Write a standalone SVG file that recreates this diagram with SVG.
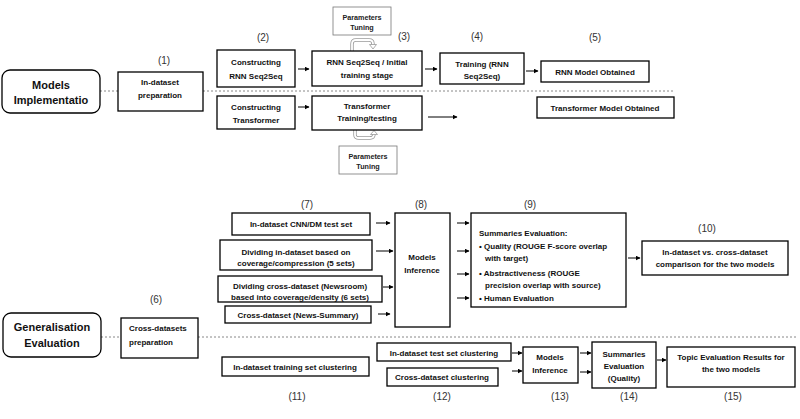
<svg xmlns="http://www.w3.org/2000/svg" width="800" height="419" viewBox="0 0 800 419">
<style>
.b{fill:#fff;stroke:#000;stroke-width:1.3}
.p{fill:#fff;stroke:#777;stroke-width:0.8}
.t{font-family:"Liberation Sans",Arial,sans-serif;font-weight:bold;font-size:8px;fill:#111;text-anchor:middle}
.s{font-size:7.2px;fill:#222}
.h{font-size:11px}
.l{text-anchor:start}
.n{font-family:"Liberation Sans",Arial,sans-serif;font-size:10px;fill:#333;text-anchor:middle}
.d{stroke:#888;stroke-width:1;stroke-dasharray:2,2;fill:none}
.a{stroke:#000;stroke-width:1;fill:none;marker-end:url(#ar)}
.lo{fill:none;stroke:#999;stroke-width:3.4}
.li{fill:none;stroke:#fff;stroke-width:1.8}
</style>
<defs>
<marker id="ar" viewBox="0 0 10 10" refX="9" refY="5" markerWidth="5" markerHeight="5" orient="auto" markerUnits="userSpaceOnUse">
<path d="M0,0 L10,5 L0,10 z" fill="#000"/>
</marker>
</defs>
<rect width="800" height="419" fill="#fff"/>

<g id="dividers">
<line class="d" x1="100" y1="91" x2="118" y2="91"/>
<line class="d" x1="203" y1="91" x2="675" y2="91"/>
<line class="d" x1="101" y1="337" x2="121" y2="337"/>
<line class="d" x1="198" y1="337" x2="796" y2="337"/>
</g>

<g id="connectors">
<line class="a" x1="298" y1="69" x2="309" y2="69"/>
<line class="a" x1="298" y1="107" x2="309" y2="107"/>
<line class="a" x1="425" y1="69" x2="437" y2="69"/>
<line class="a" x1="526" y1="71" x2="538" y2="71"/>
<line class="a" x1="428" y1="117" x2="457" y2="117"/>
<line class="a" x1="376" y1="223" x2="390" y2="223"/>
<line class="a" x1="376" y1="251" x2="393" y2="251"/>
<line class="a" x1="383" y1="287" x2="393" y2="287"/>
<line class="a" x1="378" y1="314" x2="390" y2="314"/>
<line class="a" x1="457" y1="223" x2="469" y2="223"/>
<line class="a" x1="457" y1="251" x2="469" y2="251"/>
<line class="a" x1="457" y1="274" x2="469" y2="274"/>
<line class="a" x1="457" y1="298" x2="469" y2="298"/>
<line class="a" x1="628" y1="258" x2="640" y2="258"/>
<line class="a" x1="512" y1="353" x2="522" y2="353"/>
<line class="a" x1="512" y1="371" x2="522" y2="371"/>
<line class="a" x1="580" y1="353" x2="591" y2="353"/>
<line class="a" x1="580" y1="372" x2="591" y2="372"/>
<line class="a" x1="657" y1="360" x2="666" y2="360"/>
<g id="loop-top">
<path class="lo" d="M352,51 V44 Q352,40 356,40 H369 Q373,40 373,44 V45"/>
<path class="li" d="M352,51 V44 Q352,40 356,40 H369 Q373,40 373,44 V45"/>
<path d="M369.5,44.5 L376.5,44.5 L373,49 z" fill="#fff" stroke="#999" stroke-width="0.8"/>
</g>
<g id="loop-bottom">
<path class="lo" d="M355,130 V135 Q355,138 359,138 H370 Q374,138 374,134"/>
<path class="li" d="M355,130 V135 Q355,138 359,138 H370 Q374,138 374,134"/>
<path d="M370.5,134.5 L377.5,134.5 L374,130.5 z" fill="#fff" stroke="#999" stroke-width="0.8"/>
</g>
</g>

<g id="labels">
<text class="n" x="164" y="63.5">(1)</text>
<text class="n" x="263" y="40.5">(2)</text>
<text class="n" x="404" y="39.5">(3)</text>
<text class="n" x="477" y="39.5">(4)</text>
<text class="n" x="595" y="40.5">(5)</text>
<text class="n" x="156" y="302.5">(6)</text>
<text class="n" x="307" y="207.5">(7)</text>
<text class="n" x="421" y="207.5">(8)</text>
<text class="n" x="530" y="207.5">(9)</text>
<text class="n" x="707" y="231.5">(10)</text>
<text class="n" x="297" y="399.5">(11)</text>
<text class="n" x="442" y="399.5">(12)</text>
<text class="n" x="560" y="399.5">(13)</text>
<text class="n" x="629" y="399.5">(14)</text>
<text class="n" x="733" y="399.5">(15)</text>
</g>

<g id="models-implementation">
<rect class="b" x="2" y="70" width="98" height="43" rx="8"/>
<text class="t h" x="51" y="89">Models</text>
<text class="t h" x="51" y="104">Implementatio</text>
</g>
<g id="n1">
<rect class="b" x="118" y="72" width="85" height="39"/>
<text class="t" x="160" y="85">In-dataset</text>
<text class="t" x="160" y="98">preparation</text>
</g>
<g id="n2-rnn">
<rect class="b" x="217" y="50" width="78" height="37"/>
<text class="t" x="256" y="65">Constructing</text>
<text class="t" x="256" y="79">RNN Seq2Seq</text>
</g>
<g id="n2-transformer">
<rect class="b" x="217" y="96" width="78" height="33"/>
<text class="t" x="256" y="110">Constructing</text>
<text class="t" x="256" y="123">Transformer</text>
</g>
<g id="n3-rnn">
<rect class="b" x="312" y="51" width="110" height="35"/>
<text class="t" x="367" y="65">RNN Seq2Seq / Initial</text>
<text class="t" x="367" y="78">training stage</text>
</g>
<g id="n3-transformer">
<rect class="b" x="312" y="96" width="110" height="34"/>
<text class="t" x="367" y="109">Transformer</text>
<text class="t" x="367" y="121">Training/testing</text>
</g>
<g id="tuning-top">
<rect class="p" x="333" y="7" width="58" height="28"/>
<text class="t s" x="362" y="19.5">Parameters</text>
<text class="t s" x="362" y="30" fill="#222">Tuning</text>
</g>
<g id="tuning-bottom">
<rect class="p" x="339" y="146" width="58" height="28"/>
<text class="t s" x="368" y="158.5">Parameters</text>
<text class="t s" x="368" y="168.5" fill="#222">Tuning</text>
</g>
<g id="n4">
<rect class="b" x="440" y="53" width="84" height="31"/>
<text class="t" x="482" y="67">Training (RNN</text>
<text class="t" x="482" y="79">Seq2Seq)</text>
</g>
<g id="n5-rnn">
<rect class="b" x="541" y="61" width="108" height="21"/>
<text class="t" x="595" y="75">RNN Model Obtained</text>
</g>
<g id="n5-transformer">
<rect class="b" x="537" y="97" width="137" height="21"/>
<text class="t" x="605" y="111">Transformer Model Obtained</text>
</g>

<g id="n7a">
<rect class="b" x="232" y="213" width="138" height="22"/>
<text class="t" x="301" y="227">In-dataset CNN/DM test set</text>
</g>
<g id="n7b">
<rect class="b" x="220" y="240" width="152" height="30"/>
<text class="t" x="296" y="255">Dividing in-dataset based on</text>
<text class="t" x="296" y="266">coverage/compression (5 sets)</text>
</g>
<g id="n7c">
<rect class="b" x="218" y="276" width="164" height="26"/>
<text class="t" x="300" y="289">Dividing cross-dataset (Newsroom)</text>
<text class="t" x="300" y="299.5">based into coverage/density (6 sets)</text>
</g>
<g id="n7d">
<rect class="b" x="225" y="306" width="146" height="17"/>
<text class="t" x="298" y="318">Cross-dataset (News-Summary)</text>
</g>
<g id="n8">
<rect class="b" x="395" y="213" width="55" height="114"/>
<text class="t" x="422" y="260">Models</text>
<text class="t" x="422" y="273">Inference</text>
</g>
<g id="n9">
<rect class="b" x="471" y="213" width="155" height="94"/>
<text class="t l" x="479" y="236">Summaries Evaluation:</text>
<text class="t l" x="479" y="249">• Quality (ROUGE F-score overlap</text>
<text class="t l" x="485" y="261">with target)</text>
<text class="t l" x="479" y="276">• Abstractiveness (ROUGE</text>
<text class="t l" x="485" y="288">precision overlap with source)</text>
<text class="t l" x="479" y="301">• Human Evaluation</text>
</g>
<g id="n10">
<rect class="b" x="642" y="241" width="146" height="34"/>
<text class="t" x="715" y="255">In-dataset vs. cross-dataset</text>
<text class="t" x="715" y="267">comparison for the two models</text>
</g>

<g id="generalisation-evaluation">
<rect class="b" x="3" y="313" width="98" height="44" rx="8"/>
<text class="t h" x="52" y="331">Generalisation</text>
<text class="t h" x="52" y="347">Evaluation</text>
</g>
<g id="n6">
<rect class="b" x="121" y="318" width="77" height="40"/>
<text class="t l" x="129" y="331">Cross-datasets</text>
<text class="t l" x="129" y="345">preparation</text>
</g>
<g id="n11">
<rect class="b" x="222" y="357" width="147" height="19"/>
<text class="t" x="295" y="370">In-dataset training set clustering</text>
</g>
<g id="n12a">
<rect class="b" x="377" y="343" width="134" height="18"/>
<text class="t" x="444" y="355.5">In-dataset test set clustering</text>
</g>
<g id="n12b">
<rect class="b" x="387" y="368" width="111" height="18"/>
<text class="t" x="442" y="380">Cross-dataset clustering</text>
</g>
<g id="n13">
<rect class="b" x="523" y="347" width="55" height="36"/>
<text class="t" x="550" y="360">Models</text>
<text class="t" x="550" y="373">Inference</text>
</g>
<g id="n14">
<rect class="b" x="592" y="342" width="64" height="46"/>
<text class="t" x="624" y="357">Summaries</text>
<text class="t" x="624" y="369">Evaluation</text>
<text class="t" x="624" y="381">(Quality)</text>
</g>
<g id="n15">
<rect class="b" x="667" y="347" width="128" height="40"/>
<text class="t" x="731" y="360">Topic Evaluation Results for</text>
<text class="t" x="731" y="372">the two models</text>
</g>
</svg>
